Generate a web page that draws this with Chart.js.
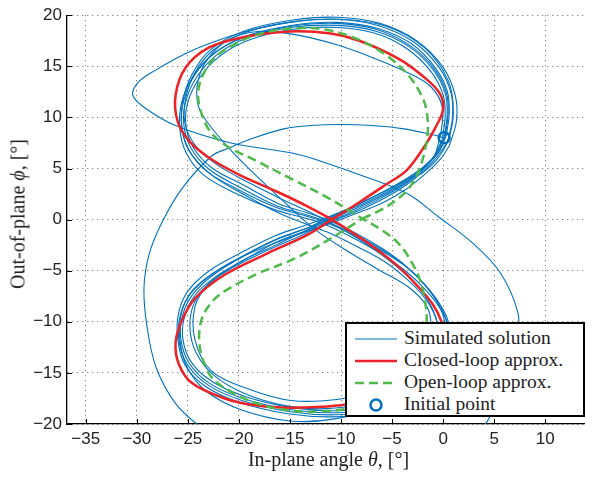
<!DOCTYPE html>
<html>
<head>
<meta charset="utf-8">
<script src="https://cdn.jsdelivr.net/npm/chart.js@4/dist/chart.umd.min.js"></script>
<style>
  html, body { margin: 0; padding: 0; background: #fff; }
  #wrap { position: relative; width: 592px; height: 479px; }
  .serif { font-family: 'Liberation Serif', serif; color: #222; }
  #xtitle { position: absolute; left: 67px; width: 523px; top: 448px; text-align: center; font-size: 20px; }
  #ytitle { position: absolute; left: 18px; top: 214px; font-size: 20px; white-space: nowrap;
            transform: translate(-50%, -50%) rotate(-90deg); }
  #legend { position: absolute; left: 345px; top: 322px; width: 236px; height: 91px;
            border: 2px solid #000; background: #fff; font-size: 19.5px; }
  #legend .row { position: absolute; left: 0; height: 22px; line-height: 22px; }
  #legend svg { position: absolute; left: 7px; top: 0; }
  #legend span { position: absolute; left: 57px; top: -1px; white-space: nowrap; }
</style>
</head>
<body>
<div id="wrap">
  <canvas id="myChart" width="592" height="479"></canvas>
  <div id="xtitle" class="serif">In-plane angle <i>θ</i>, [°]</div>
  <div id="ytitle" class="serif">Out-of-plane <i>ϕ</i>, [°]</div>
  <div id="legend" class="serif"></div>
</div>
<script>
// Axes ticks (degrees)
const xTicks = [-35, -30, -25, -20, -15, -10, -5, 0, 5, 10];
const yTicks = [-20, -15, -10, -5, 0, 5, 10, 15, 20];

// Simulated solution: start-up transient, then the settled figure-eight loops
const simTransient = [
  [0.1, 8.0], [-1.0, 8.3], [-4.0, 8.9], [-7.0, 9.2], [-10.1, 9.3], [-13.0, 9.2], [-15.5, 8.9],
  [-18.5, 8.0], [-21.0, 7.0], [-22.7, 6.2], [-25.6, 3.0], [-27.6, -0.4], [-28.8, -3.4],
  [-29.3, -6.7], [-29.0, -10.5], [-28.1, -14.5], [-26.2, -18.0], [-23.7, -20.3], [-20.0, -22.5],
  [-14.0, -24.0], [-7.0, -24.5], [-1.0, -23.5], [3.0, -21.0], [4.4, -19.6], [6.2, -15.5],
  [7.3, -11.5], [7.3, -9.0], [5.6, -5.2], [2.9, -2.3], [-0.5, 0.3], [-3.6, 2.6], [-8.8, 4.6],
  [-14.3, 6.4], [-20.8, 7.5], [-26.2, 9.2], [-29.3, 11.0], [-30.4, 12.2], [-29.8, 13.5],
  [-28.2, 14.6], [-25.3, 16.2], [-22.7, 17.3], [-19.0, 18.5], [-14.5, 19.4], [-10.0, 19.6],
  [-5.5, 18.9], [-1.8, 16.8], [0.5, 13.6], [1.0, 10.5], [0.5, 7.8], [-0.6, 5.9], [-2.2, 4.4]
];
const simLoop1 = [
  [0.1, 8.0], [0.4, 10.3], [0.2, 12.4], [-1.0, 14.7], [-3.3, 16.9], [-6.5, 18.4], [-10.4, 19.0],
  [-14.9, 18.8], [-19.4, 17.7], [-22.2, 16.1], [-24.1, 14.0], [-25.2, 11.6], [-25.4, 9.3],
  [-24.7, 7.0], [-22.9, 4.9], [-19.8, 3.1], [-16.2, 1.3], [-13.5, 0.5], [-11.4, -0.2],
  [-8.5, -1.5], [-5.9, -3.0], [-3.6, -4.6], [-1.6, -6.6], [-0.2, -8.6], [0.4, -10.3],
  [0.4, -12.5], [-0.8, -14.9], [-3.4, -17.1], [-7.0, -18.5], [-10.6, -18.9], [-14.9, -18.6],
  [-19.6, -17.5], [-22.9, -16.0], [-24.9, -14.0], [-25.7, -11.6], [-25.5, -9.3], [-24.5, -7.3],
  [-22.5, -5.4], [-19.6, -3.6], [-16.2, -1.9], [-13.5, -0.9], [-11.4, -0.1], [-8.5, 1.1],
  [-6.0, 2.3], [-3.6, 3.7], [-1.9, 5.0], [-0.7, 6.4], [0.1, 8.0]
];
const simLoop2 = [
  [0.3, 8.2], [0.6, 10.4], [0.4, 12.6], [-0.8, 14.9], [-3.1, 17.2], [-6.4, 18.7], [-10.4, 19.3],
  [-14.9, 19.0], [-19.5, 17.9], [-22.4, 16.3], [-24.3, 14.2], [-25.4, 11.7], [-25.6, 9.2],
  [-24.9, 6.8], [-23.1, 4.7], [-20.0, 2.9], [-16.4, 1.2], [-13.6, 0.4], [-11.4, -0.3],
  [-8.4, -1.7], [-5.8, -3.2], [-3.4, -4.8], [-1.4, -6.8], [0.0, -8.8], [0.6, -10.4],
  [0.6, -12.6], [-0.6, -15.1], [-3.3, -17.3], [-7.0, -18.7], [-10.6, -19.1], [-15.0, -18.8],
  [-19.7, -17.7], [-23.0, -16.2], [-25.1, -14.1], [-25.9, -11.6], [-25.7, -9.2], [-24.7, -7.2],
  [-22.6, -5.3], [-19.7, -3.6], [-16.3, -1.9], [-13.5, -0.9], [-11.4, 0.1], [-8.4, 1.3],
  [-5.9, 2.5], [-3.5, 3.9], [-1.7, 5.2], [-0.5, 6.6], [0.3, 8.2]
];
const simLoop3 = [
  [-0.1, 7.8], [0.2, 10.1], [0.0, 12.2], [-1.2, 14.5], [-3.5, 16.7], [-6.6, 18.2], [-10.4, 18.8],
  [-14.8, 18.6], [-19.2, 17.5], [-22.0, 15.9], [-23.9, 13.8], [-25.0, 11.5], [-25.2, 9.3],
  [-24.5, 7.1], [-22.7, 5.1], [-19.6, 3.4], [-16.0, 1.5], [-13.4, 0.7], [-11.4, 0.0],
  [-8.6, -1.3], [-6.0, -2.8], [-3.8, -4.4], [-1.8, -6.4], [-0.4, -8.4], [0.2, -10.2],
  [0.2, -12.4], [-1.0, -14.7], [-3.6, -16.9], [-7.1, -18.3], [-10.6, -18.7], [-14.8, -18.4],
  [-19.4, -17.3], [-22.7, -15.8], [-24.7, -13.9], [-25.5, -11.6], [-25.3, -9.4], [-24.3, -7.4],
  [-22.3, -5.6], [-19.4, -3.9], [-16.1, -2.1], [-13.4, -1.1], [-11.5, -0.3], [-8.6, 0.9],
  [-6.1, 2.1], [-3.7, 3.5], [-2.1, 4.8], [-0.9, 6.2], [-0.1, 7.8]
];
const simLoop4 = [
  [0.2, 8.1], [0.5, 10.5], [0.3, 12.5], [-0.9, 14.8], [-3.2, 17.0], [-6.5, 18.6], [-10.5, 19.2],
  [-15.0, 18.9], [-19.6, 17.8], [-22.5, 16.2], [-24.5, 14.0], [-25.6, 11.5], [-25.8, 9.0],
  [-25.2, 6.6], [-23.5, 4.4], [-20.4, 2.6], [-16.6, 1.0], [-13.7, 0.2], [-11.5, -0.5],
  [-8.6, -1.9], [-6.0, -3.4], [-3.7, -5.0], [-1.6, -7.0], [-0.1, -9.0], [0.5, -10.6],
  [0.4, -12.8], [-0.8, -15.2], [-3.5, -17.5], [-7.2, -18.9], [-10.8, -19.3], [-15.2, -19.0],
  [-19.9, -17.9], [-23.3, -16.3], [-25.3, -14.2], [-26.0, -11.6], [-25.9, -9.1], [-25.0, -7.0],
  [-22.9, -5.0], [-19.9, -3.3], [-16.5, -1.6], [-13.6, -0.6], [-11.4, 0.2], [-8.3, 1.5],
  [-5.7, 2.8], [-3.3, 4.2], [-1.5, 5.5], [-0.3, 6.8], [0.2, 8.1]
];
const simLoop5 = [
  [0.6, 7.2], [1.3, 9.6], [1.2, 12.1], [0.0, 14.9], [-2.6, 17.5], [-6.2, 19.2], [-10.4, 19.8],
  [-14.9, 19.5], [-19.6, 18.4], [-22.8, 16.6], [-24.6, 14.2], [-25.5, 11.6], [-25.6, 9.0],
  [-24.8, 6.6], [-22.6, 4.3], [-19.4, 2.4], [-16.2, 0.7], [-13.5, -0.4], [-11.4, -1.2],
  [-8.5, -2.6], [-5.9, -4.0], [-3.8, -5.6], [-2.0, -7.4], [-0.8, -9.4], [-0.4, -11.5],
  [-1.0, -13.8], [-3.0, -16.3], [-6.5, -18.3], [-10.6, -19.5], [-15.0, -19.7], [-19.8, -18.6],
  [-23.2, -16.8], [-25.1, -14.4], [-25.8, -11.6], [-25.6, -9.0], [-24.6, -7.0], [-22.6, -5.3],
  [-19.6, -3.6], [-16.2, -2.2], [-13.5, -1.2], [-11.4, -0.5], [-8.5, 0.6], [-6.0, 1.6],
  [-3.6, 3.0], [-1.6, 4.6], [-0.2, 6.0], [0.6, 7.2]
];
const simLoop6 = [
  [-0.8, 6.2], [-0.2, 8.6], [-0.1, 11.1], [-1.2, 13.0], [-3.3, 14.3], [-6.8, 15.8], [-10.4, 17.1],
  [-14.5, 18.1], [-18.2, 18.4], [-21.0, 17.6], [-23.0, 15.8], [-24.0, 13.6], [-24.0, 11.2],
  [-23.0, 9.4], [-20.8, 6.8], [-18.0, 4.0], [-15.0, 1.2], [-12.5, -1.0], [-9.5, -3.0],
  [-6.5, -4.8], [-3.4, -6.6], [-1.6, -8.5], [-1.2, -10.5], [-1.8, -12.8], [-3.8, -15.0],
  [-7.0, -16.8], [-10.4, -17.6], [-14.9, -17.7], [-19.0, -16.6], [-22.7, -14.8], [-24.3, -11.8],
  [-24.3, -8.5], [-23.0, -6.4], [-20.0, -4.2], [-16.2, -2.4], [-12.5, -0.6], [-9.0, 1.2],
  [-5.5, 2.9], [-2.8, 4.4], [-0.8, 6.2]
];
const simLoop7 = [
  [0.4, 7.5], [0.9, 9.8], [0.8, 12.3], [-0.4, 14.9], [-2.9, 17.4], [-6.4, 19.0], [-10.5, 19.6],
  [-15.0, 19.3], [-19.4, 18.3], [-22.5, 16.6], [-24.3, 14.4], [-25.2, 11.9], [-25.3, 9.5],
  [-24.3, 7.3], [-22.2, 5.4], [-19.0, 3.6], [-15.8, 2.0], [-13.0, 0.7], [-10.5, -0.6],
  [-7.8, -2.2], [-5.4, -3.9], [-3.2, -5.8], [-1.5, -7.9], [-0.6, -10.0], [-0.6, -12.2],
  [-1.7, -14.4], [-4.2, -16.6], [-7.8, -18.0], [-11.5, -18.5], [-15.5, -18.2], [-19.5, -17.0],
  [-22.5, -15.2], [-24.2, -13.0], [-24.8, -10.6], [-24.4, -8.2], [-23.0, -6.3], [-20.6, -4.7],
  [-17.2, -3.0], [-14.0, -1.6], [-11.0, -0.2], [-8.0, 1.0], [-5.2, 2.4], [-2.8, 4.0],
  [-0.9, 5.8], [0.4, 7.5]
];

// Closed-loop approximation
const closedLoop = [
  [-10.9, 0.0], [-8.2, 1.7], [-5.8, 3.3], [-3.6, 4.8], [-2.0, 6.9], [-0.7, 9.1], [0.0, 10.8],
  [-0.3, 12.3], [-1.7, 13.8], [-4.3, 15.7], [-8.2, 17.5], [-11.0, 18.2], [-15.0, 18.4],
  [-19.8, 17.8], [-23.0, 16.8], [-25.2, 14.9], [-26.2, 12.2], [-26.0, 9.6], [-24.8, 7.6],
  [-22.7, 5.9], [-19.8, 4.3], [-16.2, 2.7], [-13.3, 1.3], [-10.9, 0.0], [-7.5, -2.2],
  [-4.5, -4.5], [-2.5, -6.5], [-1.0, -8.3], [-0.2, -9.9], [0.0, -11.5], [-0.6, -13.6],
  [-2.5, -15.6], [-6.0, -17.4], [-10.4, -18.2], [-14.9, -18.4], [-18.2, -18.2], [-21.4, -17.5],
  [-24.6, -16.0], [-25.9, -14.1], [-26.2, -12.0], [-25.6, -9.9], [-24.3, -7.7], [-21.4, -5.4],
  [-17.2, -3.3], [-13.3, -1.5], [-10.9, 0.0]
];

// Open-loop approximation
const openLoop = [
  [-7.9, 0.1], [-6.0, 1.0], [-4.6, 1.9], [-3.4, 3.0], [-2.5, 4.5], [-1.9, 6.3], [-1.5, 8.6],
  [-1.6, 10.5], [-2.0, 11.9], [-3.3, 14.0], [-5.6, 16.1], [-8.5, 17.7], [-11.6, 18.6],
  [-14.9, 18.7], [-18.2, 18.1], [-20.7, 17.0], [-22.4, 15.8], [-23.5, 14.2], [-24.0, 12.4],
  [-23.7, 10.5], [-22.8, 8.6], [-21.2, 7.2], [-18.2, 5.7], [-14.9, 4.0], [-11.4, 2.2],
  [-7.9, 0.1], [-5.9, -1.1], [-4.4, -2.3], [-3.3, -3.8], [-2.3, -5.8], [-1.8, -7.8],
  [-1.6, -9.9], [-1.8, -12.2], [-2.8, -14.6], [-4.8, -16.7], [-8.0, -18.2], [-12.3, -18.8],
  [-15.6, -18.6], [-18.2, -18.0], [-20.7, -16.9], [-22.7, -15.4], [-23.6, -13.5], [-23.9, -11.5],
  [-23.6, -9.6], [-22.6, -8.0], [-21.4, -7.0], [-18.2, -5.3], [-14.5, -3.8], [-10.6, -1.6],
  [-7.9, 0.1]
];

// Initial point
const initialPoint = [[0.1, 8.0]];

const BLUE = '#0072BD';
const RED = '#EC2227';
const GREEN = '#4DBA4A';

const toXY = arr => arr.map(p => ({ x: p[0], y: p[1] }));

function simDataset(arr) {
  return {
    label: 'Simulated solution',
    data: toXY(arr),
    showLine: true,
    borderColor: BLUE,
    borderWidth: 1.1,
    pointRadius: 0,
    tension: 0.35,
    order: 3
  };
}

const datasets = [
  simDataset(simTransient),
  simDataset(simLoop1),
  simDataset(simLoop2),
  simDataset(simLoop3),
  simDataset(simLoop4),
  simDataset(simLoop5),
  simDataset(simLoop6),
  simDataset(simLoop7),
  {
    label: 'Closed-loop approx.',
    data: toXY(closedLoop),
    showLine: true,
    borderColor: RED,
    borderWidth: 2.5,
    pointRadius: 0,
    tension: 0.35,
    order: 2
  },
  {
    label: 'Open-loop approx.',
    data: toXY(openLoop),
    showLine: true,
    borderColor: GREEN,
    borderWidth: 2.5,
    borderDash: [9, 5],
    pointRadius: 0,
    tension: 0.35,
    order: 1
  },
  {
    label: 'Initial point',
    data: toXY(initialPoint),
    showLine: false,
    borderColor: BLUE,
    backgroundColor: 'rgba(0,0,0,0)',
    borderWidth: 2.5,
    pointRadius: 5.5,
    order: 0
  }
];

// ticks pointing into the plot, left and bottom axes only
const innerTicks = {
  id: 'innerTicks',
  afterDatasetsDraw(chart) {
    const { ctx, chartArea, scales } = chart;
    ctx.save();
    ctx.strokeStyle = '#000';
    ctx.lineWidth = 1;
    ctx.beginPath();
    xTicks.forEach(v => {
      const px = Math.round(scales.x.getPixelForValue(v)) + 0.5;
      ctx.moveTo(px, chartArea.bottom);
      ctx.lineTo(px, chartArea.bottom - 5);
    });
    yTicks.forEach(v => {
      const py = Math.round(scales.y.getPixelForValue(v)) + 0.5;
      ctx.moveTo(chartArea.left, py);
      ctx.lineTo(chartArea.left + 5, py);
    });
    ctx.stroke();
    ctx.restore();
  }
};

const minus = v => (v < 0 ? '\u2212' + Math.abs(v) : String(v));

// dotted grid; in v4 border.dash sets the dash of the grid lines
function axisOptions(min, max, ticks, fit) {
  return {
    min: min,
    max: max,
    afterBuildTicks: s => { s.ticks = ticks.map(v => ({ value: v })); },
    afterFit: fit,
    grid: { color: 'rgba(60,60,60,0.8)', lineWidth: 1, drawTicks: false },
    border: { display: true, color: '#000', width: 1.3, dash: [1, 4] },
    ticks: {
      padding: 5,
      color: '#222',
      font: { family: 'Liberation Sans', size: 17 },
      callback: v => minus(v)
    }
  };
}

const ctx = document.getElementById('myChart').getContext('2d');
const myChart = new Chart(ctx, {
  type: 'scatter',
  data: { datasets: datasets },
  options: {
    responsive: false,
    animation: false,
    devicePixelRatio: 1,
    layout: { padding: { left: 0, right: 2, top: 11, bottom: 0 } },
    plugins: { legend: { display: false }, tooltip: { enabled: false } },
    scales: {
      x: axisOptions(-36.84, 13.8, xTicks, s => { s.height = 55; }),
      y: axisOptions(-20, 20, yTicks, s => { s.width = 67; })
    }
  },
  plugins: [innerTicks]
});

// legend box built from the datasets (one row per label)
const legendEl = document.getElementById('legend');
const seen = new Set();
let row = 0;
myChart.data.datasets.forEach(ds => {
  if (seen.has(ds.label)) return;
  seen.add(ds.label);
  const top = 4 + row * 22;
  let sample;
  if (ds.showLine) {
    const dash = ds.borderDash ? ` stroke-dasharray="${ds.borderDash.join(' ')}"` : '';
    sample = `<svg width="44" height="22"><line x1="1" y1="11" x2="43" y2="11" stroke="${ds.borderColor}" stroke-width="${ds.borderWidth}"${dash}/></svg>`;
  } else {
    sample = `<svg width="44" height="22"><circle cx="22" cy="11" r="${ds.pointRadius}" fill="none" stroke="${ds.borderColor}" stroke-width="${ds.borderWidth}"/></svg>`;
  }
  legendEl.insertAdjacentHTML('beforeend',
    `<div class="row" style="top:${top}px;width:100%">${sample}<span>${ds.label}</span></div>`);
  row++;
});
</script>
</body>
</html>
